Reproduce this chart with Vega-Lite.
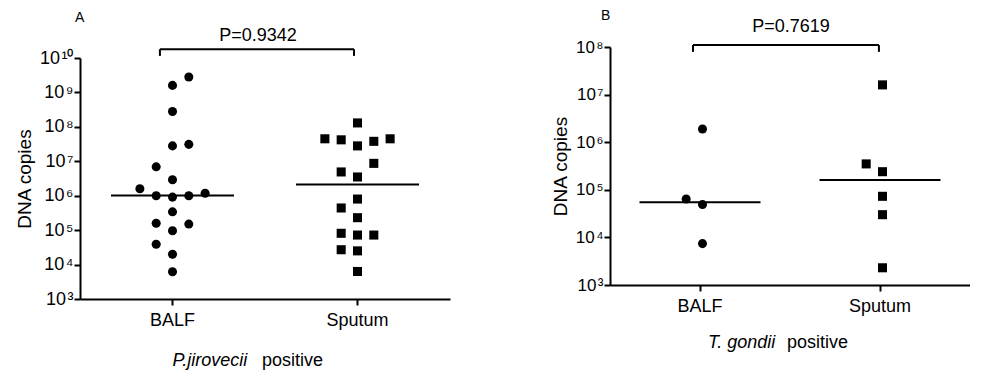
{
  "$schema": "https://vega.github.io/schema/vega-lite/v6.json",
  "padding": {"left": 15, "top": 8, "right": 0, "bottom": 0},
  "spacing": 101,
  "config": {
    "view": {"stroke": null},
    "font": "Liberation Sans",
    "axis": {
      "grid": false,
      "domainColor": "black",
      "domainWidth": 2,
      "tickColor": "black",
      "tickWidth": 2,
      "tickSize": 6,
      "labelColor": "black",
      "titleColor": "black",
      "titleFontWeight": "normal",
      "labelFlush": false
    },
    "title": {"fontWeight": "normal", "color": "black", "fontSize": 14}
  },
  "datasets": {
    "a": [
      {"sample": "BALF", "slot": 1, "copies": 2800000000},
      {"sample": "BALF", "slot": 0, "copies": 1600000000},
      {"sample": "BALF", "slot": 0, "copies": 280000000},
      {"sample": "BALF", "slot": 0, "copies": 28000000},
      {"sample": "BALF", "slot": 1, "copies": 31000000},
      {"sample": "BALF", "slot": -1, "copies": 6900000},
      {"sample": "BALF", "slot": 0, "copies": 2900000},
      {"sample": "BALF", "slot": -2, "copies": 1600000},
      {"sample": "BALF", "slot": -1, "copies": 1000000},
      {"sample": "BALF", "slot": 0, "copies": 910000},
      {"sample": "BALF", "slot": 1, "copies": 1000000},
      {"sample": "BALF", "slot": 2, "copies": 1180000},
      {"sample": "BALF", "slot": 0, "copies": 340000},
      {"sample": "BALF", "slot": -1, "copies": 158000},
      {"sample": "BALF", "slot": 1, "copies": 150000},
      {"sample": "BALF", "slot": 0, "copies": 96000},
      {"sample": "BALF", "slot": -1, "copies": 39000},
      {"sample": "BALF", "slot": 0, "copies": 20000},
      {"sample": "BALF", "slot": 0, "copies": 6200},
      {"sample": "Sputum", "slot": 0, "copies": 130000000},
      {"sample": "Sputum", "slot": -2, "copies": 45000000},
      {"sample": "Sputum", "slot": -1, "copies": 42000000},
      {"sample": "Sputum", "slot": 0, "copies": 28000000},
      {"sample": "Sputum", "slot": 1, "copies": 38000000},
      {"sample": "Sputum", "slot": 2, "copies": 45000000},
      {"sample": "Sputum", "slot": 1, "copies": 8700000},
      {"sample": "Sputum", "slot": -1, "copies": 4900000},
      {"sample": "Sputum", "slot": 0, "copies": 3500000},
      {"sample": "Sputum", "slot": 0, "copies": 800000},
      {"sample": "Sputum", "slot": -1, "copies": 440000},
      {"sample": "Sputum", "slot": 0, "copies": 230000},
      {"sample": "Sputum", "slot": -1, "copies": 81000},
      {"sample": "Sputum", "slot": 0, "copies": 72000},
      {"sample": "Sputum", "slot": 1, "copies": 72000},
      {"sample": "Sputum", "slot": -1, "copies": 27000},
      {"sample": "Sputum", "slot": 0, "copies": 25000},
      {"sample": "Sputum", "slot": 0, "copies": 6300}
    ],
    "am": [
      {"sample": "BALF", "median": 1020000},
      {"sample": "Sputum", "median": 2100000}
    ],
    "b": [
      {"sample": "BALF", "slot": 0, "copies": 1900000},
      {"sample": "BALF", "slot": -1, "copies": 64000},
      {"sample": "BALF", "slot": 0, "copies": 49000},
      {"sample": "BALF", "slot": 0, "copies": 7400},
      {"sample": "Sputum", "slot": 0, "copies": 16000000},
      {"sample": "Sputum", "slot": -1, "copies": 350000},
      {"sample": "Sputum", "slot": 0, "copies": 240000},
      {"sample": "Sputum", "slot": 0, "copies": 73000},
      {"sample": "Sputum", "slot": 0, "copies": 30000},
      {"sample": "Sputum", "slot": 0, "copies": 2300}
    ],
    "bm": [
      {"sample": "BALF", "median": 55000},
      {"sample": "Sputum", "median": 160000}
    ]
  },
  "hconcat": [
    {
      "width": 370,
      "height": 252,
      "title": {"text": "A", "anchor": "start", "frame": "group", "offset": -9.5, "dx": -5, "baseline": "alphabetic"},
      "encoding": {
        "x": {
          "field": "sample", "type": "nominal",
          "scale": {"type": "band", "domain": ["BALF", "Sputum"], "paddingInner": 0, "paddingOuter": 0},
          "axis": {"title": null, "labelFontSize": 18, "labelPadding": 6, "labelAngle": 0}
        }
      },
      "layer": [
        {
          "data": {"name": "a"},
          "mark": {"type": "point", "filled": true, "color": "black", "opacity": 1, "size": 82},
          "encoding": {
            "xOffset": {"field": "slot", "type": "ordinal", "scale": {"domain": [-5, -4, -3, -2, -1, 0, 1, 2, 3, 4, 5], "paddingInner": 0, "paddingOuter": 0.67}},
            "y": {
              "field": "copies", "type": "quantitative",
              "scale": {"type": "log", "domain": [1000, 10000000000], "range": [252, 11], "nice": false},
              "axis": {
                "values": [1000, 10000, 100000, 1000000, 10000000, 100000000, 1000000000, 10000000000],
                "labelExpr": "'10' + '\u200a' + ['⁰','¹','²','³','⁴','⁵','⁶','⁷','⁸','⁹','¹⁰'][round(log(datum.value)/LN10)]",
                "title": "DNA copies", "titleFontSize": 19, "titlePadding": 5,
                "labelFontSize": 18, "labelPadding": 1
              }
            },
            "shape": {"field": "sample", "type": "nominal", "scale": {"domain": ["BALF", "Sputum"], "range": ["circle", "square"]}, "legend": null}
          }
        },
        {
          "data": {"name": "am"},
          "mark": {"type": "tick", "orient": "horizontal", "size": 123, "thickness": 2, "color": "black", "opacity": 1},
          "encoding": {
            "y": {"field": "median", "type": "quantitative"}
          }
        },
        {
          "data": {"values": [{}]},
          "mark": {"type": "rule", "color": "black", "strokeWidth": 2},
          "encoding": {"x": {"datum": "BALF", "bandPosition": 0.432}, "x2": {"datum": "Sputum", "bandPosition": 0.481}, "y": {"datum": 18000000000}}
        },
        {
          "data": {"values": [{}]},
          "mark": {"type": "rule", "color": "black", "strokeWidth": 2},
          "encoding": {"x": {"datum": "BALF", "bandPosition": 0.432}, "y": {"datum": 18000000000}, "y2": {"datum": 11500000000}}
        },
        {
          "data": {"values": [{}]},
          "mark": {"type": "rule", "color": "black", "strokeWidth": 2},
          "encoding": {"x": {"datum": "Sputum", "bandPosition": 0.481}, "y": {"datum": 18000000000}, "y2": {"datum": 11500000000}}
        },
        {
          "data": {"values": [{"label": "P=0.9342"}]},
          "mark": {"type": "text", "fontSize": 18, "color": "black", "align": "center", "baseline": "middle"},
          "encoding": {"x": {"datum": "BALF", "bandPosition": 0.962}, "y": {"datum": 44000000000}, "text": {"field": "label"}}
        },
        {
          "data": {"values": [{"label": "P.jirovecii"}]},
          "mark": {"type": "text", "fontSize": 18, "fontStyle": "italic", "color": "black", "align": "left", "baseline": "middle", "dy": 62},
          "encoding": {"x": {"datum": "BALF", "bandPosition": 0.5}, "y": {"datum": 1000}, "text": {"field": "label"}}
        },
        {
          "data": {"values": [{"label": "positive"}]},
          "mark": {"type": "text", "fontSize": 18, "color": "black", "align": "left", "baseline": "middle", "dy": 62},
          "encoding": {"x": {"datum": "BALF", "bandPosition": 0.984}, "y": {"datum": 1000}, "text": {"field": "label"}}
        }
      ]
    },
    {
      "width": 360,
      "height": 238,
      "title": {"text": "B", "anchor": "start", "frame": "group", "offset": -15.5, "dx": -9, "baseline": "alphabetic"},
      "encoding": {
        "x": {
          "field": "sample", "type": "nominal",
          "scale": {"type": "band", "domain": ["BALF", "Sputum"], "paddingInner": 0, "paddingOuter": 0},
          "axis": {"title": null, "labelFontSize": 18, "labelPadding": 6, "labelAngle": 0}
        }
      },
      "layer": [
        {
          "data": {"name": "b"},
          "mark": {"type": "point", "filled": true, "color": "black", "opacity": 1, "size": 82},
          "encoding": {
            "xOffset": {"field": "slot", "type": "ordinal", "scale": {"domain": [-5, -4, -3, -2, -1, 0, 1, 2, 3, 4, 5], "paddingInner": 0, "paddingOuter": 0.7}},
            "y": {
              "field": "copies", "type": "quantitative",
              "scale": {"type": "log", "domain": [1000, 100000000], "nice": false},
              "axis": {
                "values": [1000, 10000, 100000, 1000000, 10000000, 100000000],
                "labelExpr": "'10' + '\u200a' + ['⁰','¹','²','³','⁴','⁵','⁶','⁷','⁸','⁹','¹⁰'][round(log(datum.value)/LN10)]",
                "title": "DNA copies", "titleFontSize": 19, "titlePadding": 5,
                "labelFontSize": 17, "labelPadding": 1
              }
            },
            "shape": {"field": "sample", "type": "nominal", "scale": {"domain": ["BALF", "Sputum"], "range": ["circle", "square"]}, "legend": null}
          }
        },
        {
          "data": {"name": "bm"},
          "mark": {"type": "tick", "orient": "horizontal", "size": 121, "thickness": 2, "color": "black", "opacity": 1},
          "encoding": {
            "y": {"field": "median", "type": "quantitative"}
          }
        },
        {
          "data": {"values": [{}]},
          "mark": {"type": "rule", "color": "black", "strokeWidth": 2},
          "encoding": {"x": {"datum": "BALF", "bandPosition": 0.461}, "x2": {"datum": "Sputum", "bandPosition": 0.494}, "y": {"datum": 110000000}}
        },
        {
          "data": {"values": [{}]},
          "mark": {"type": "rule", "color": "black", "strokeWidth": 2},
          "encoding": {"x": {"datum": "BALF", "bandPosition": 0.461}, "y": {"datum": 110000000}, "y2": {"datum": 79000000}}
        },
        {
          "data": {"values": [{}]},
          "mark": {"type": "rule", "color": "black", "strokeWidth": 2},
          "encoding": {"x": {"datum": "Sputum", "bandPosition": 0.494}, "y": {"datum": 110000000}, "y2": {"datum": 79000000}}
        },
        {
          "data": {"values": [{"label": "P=0.7619"}]},
          "mark": {"type": "text", "fontSize": 18, "color": "black", "align": "center", "baseline": "middle"},
          "encoding": {"x": {"datum": "BALF", "bandPosition": 1.006}, "y": {"datum": 260000000}, "text": {"field": "label"}}
        },
        {
          "data": {"values": [{"label": "T. gondii"}]},
          "mark": {"type": "text", "fontSize": 18, "fontStyle": "italic", "color": "black", "align": "left", "baseline": "middle", "dy": 58},
          "encoding": {"x": {"datum": "BALF", "bandPosition": 0.544}, "y": {"datum": 1000}, "text": {"field": "label"}}
        },
        {
          "data": {"values": [{"label": "positive"}]},
          "mark": {"type": "text", "fontSize": 18, "color": "black", "align": "left", "baseline": "middle", "dy": 58},
          "encoding": {"x": {"datum": "BALF", "bandPosition": 0.983}, "y": {"datum": 1000}, "text": {"field": "label"}}
        }
      ]
    }
  ]
}
